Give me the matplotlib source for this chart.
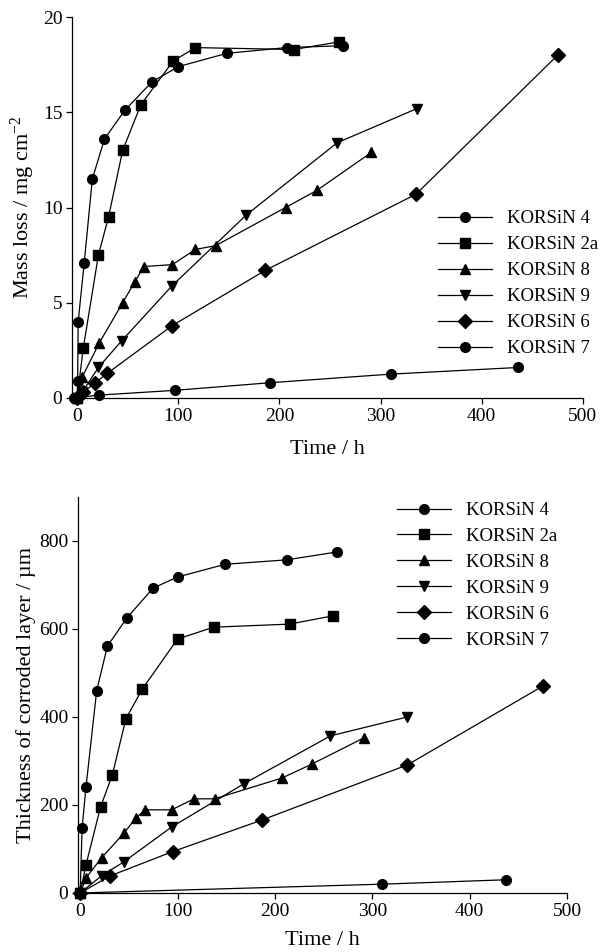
import matplotlib
matplotlib.use("Agg")
import matplotlib.pyplot as plt

plt.rcParams['font.family'] = ['Liberation Serif', 'DejaVu Serif']
plt.rcParams['mathtext.fontset'] = 'custom'
plt.rcParams['mathtext.rm'] = 'Liberation Serif'
plt.rcParams['mathtext.it'] = 'Liberation Serif:italic'

labels = ['KORSiN 4', 'KORSiN 2a', 'KORSiN 8', 'KORSiN 9', 'KORSiN 6', 'KORSiN 7']
markers = ['o', 's', '^', 'v', 'D', 'o']

# mass loss (mg cm-2) vs time (h)
t4 = [0, 0.5, 1, 7, 15, 27, 47, 74, 100, 148, 207, 263]
m4 = [0, 0.9, 4.0, 7.1, 11.5, 13.6, 15.1, 16.6, 17.4, 18.1, 18.4, 18.5]
t2a = [0, 6, 21, 31, 45, 63, 95, 117, 214, 259]
m2a = [0, 2.6, 7.5, 9.5, 13.0, 15.4, 17.7, 18.4, 18.3, 18.7]
t8 = [0, 5, 22, 45, 57, 66, 94, 117, 137, 206, 237, 291]
m8 = [0, 1.1, 2.9, 5.0, 6.1, 6.9, 7.0, 7.8, 8.0, 10.0, 10.9, 12.9]
t9 = [0, 5, 21, 44, 94, 167, 257, 336]
m9 = [0, 0.3, 1.6, 3.0, 5.9, 9.6, 13.4, 15.2]
t6 = [0, 6, 18, 30, 94, 186, 335, 475]
m6 = [0, 0.3, 0.8, 1.3, 3.8, 6.7, 10.7, 18.0]
t7 = [-3, 22, 97, 191, 310, 436]
m7 = [0, 0.15, 0.4, 0.8, 1.25, 1.6]

# thickness of corroded layer (um) vs time (h)
tt4 = [0, 2, 6, 17, 28, 48, 75, 100, 149, 212, 264]
d4 = [0, 148, 241, 460, 561, 625, 693, 718, 747, 757, 775]
tt2a = [0, 6, 21, 33, 47, 64, 100, 137, 215, 260]
d2a = [0, 64, 196, 268, 396, 464, 577, 604, 611, 630]
tt8 = [0, 6, 22, 45, 57, 67, 94, 117, 138, 207, 238, 291]
d8 = [0, 34, 80, 136, 170, 189, 189, 214, 214, 261, 293, 352]
tt9 = [0, 22, 45, 94, 168, 257, 336]
d9 = [0, 39, 71, 150, 248, 357, 400]
tt6 = [0, 31, 95, 187, 336, 475]
d6 = [0, 39, 94, 166, 291, 470]
tt7 = [0, 310, 437]
d7 = [0, 20, 30]

fig = plt.figure(figsize=(6.11, 9.52), dpi=100)
ax1 = fig.add_axes([0.118, 0.582, 0.836, 0.400])
ax2 = fig.add_axes([0.128, 0.062, 0.800, 0.416])

top = [(t4, m4), (t2a, m2a), (t8, m8), (t9, m9), (t6, m6), (t7, m7)]
bot = [(tt4, d4), (tt2a, d2a), (tt8, d8), (tt9, d9), (tt6, d6), (tt7, d7)]

for ax, series in [(ax1, top), (ax2, bot)]:
    for (x, y), lab, mk in zip(series, labels, markers):
        ms = 6.8 if mk == 'D' else 7
        ax.plot(x, y, color='black', lw=0.9, marker=mk, ms=ms, label=lab, clip_on=False)
    for s in ['top', 'right']:
        ax.spines[s].set_visible(False)
    for s in ['left', 'bottom']:
        ax.spines[s].set_linewidth(0.9)
    ax.tick_params(direction='out', length=4, width=0.9, labelsize=14, pad=3)
    ax.set_xticks([0, 100, 200, 300, 400, 500])

ax1.set_xlim(-5, 500)
ax1.set_ylim(0, 20)
ax1.set_yticks([0, 5, 10, 15, 20])
ax1.set_xlabel('Time / h', fontsize=16, labelpad=11)
ax1.set_ylabel(r'Mass loss / mg cm$^{\mathregular{-2}}$', fontsize=16, labelpad=4)
ax1.legend(loc='center left', bbox_to_anchor=(0.716, 0.30), frameon=False,
           borderpad=0, borderaxespad=0, handlelength=2.9, handletextpad=0.8,
           labelspacing=0.47, fontsize=13.5)

ax2.set_xlim(-2, 500)
ax2.set_ylim(0, 900)
ax2.set_yticks([0, 200, 400, 600, 800])
ax2.set_xlabel('Time / h', fontsize=16, labelpad=8)
ax2.set_ylabel('Thickness of corroded layer / \u00b5m', fontsize=16, labelpad=2)
ax2.legend(loc='center left', bbox_to_anchor=(0.652, 0.802), frameon=False,
           borderpad=0, borderaxespad=0, handlelength=2.9, handletextpad=0.8,
           labelspacing=0.47, fontsize=13.5)

fig.savefig('out.png', dpi=100)
